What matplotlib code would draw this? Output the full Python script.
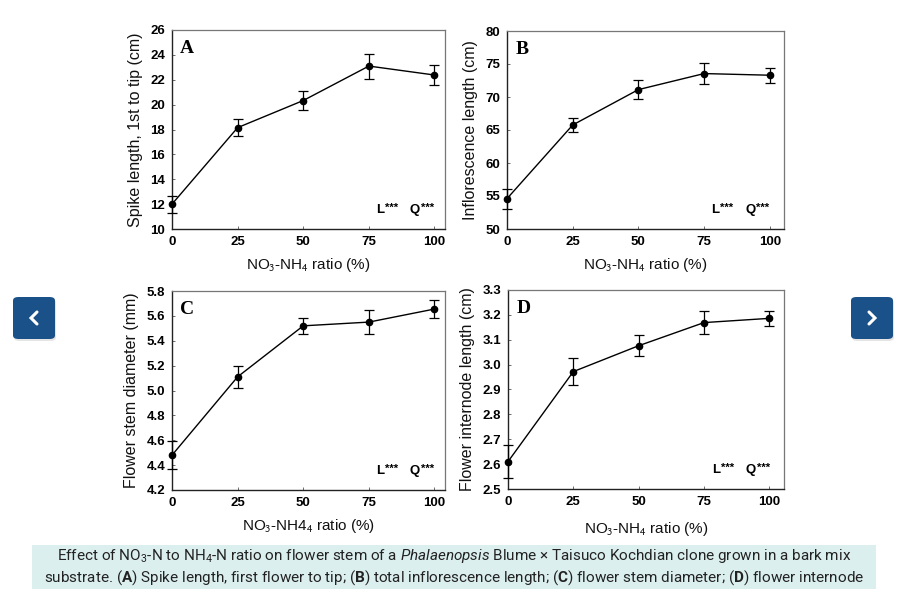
import matplotlib
matplotlib.use("Agg")
import matplotlib.pyplot as plt
from matplotlib.patches import FancyBboxPatch, Rectangle
from matplotlib.lines import Line2D
import matplotlib.transforms as mtrans

plt.rcParams['font.family'] = ['Liberation Sans', 'DejaVu Sans']
plt.rcParams['mathtext.fontset'] = 'custom'
plt.rcParams['mathtext.rm'] = 'Roboto'
plt.rcParams['mathtext.it'] = 'Roboto:italic'
plt.rcParams['mathtext.bf'] = 'Roboto:bold'

# ---- data ----
ratio = [0, 25, 50, 75, 100]
xticks = [0, 25, 50, 75, 100]

spike = [12.0, 18.15, 20.33, 23.1, 22.38]
spike_err = [0.68, 0.67, 0.78, 1.0, 0.77]

infl = [54.6, 65.76, 71.12, 73.55, 73.3]
infl_err = [1.5, 1.1, 1.43, 1.6, 1.13]

diam = [4.48, 5.11, 5.52, 5.55, 5.655]
diam_err = [0.11, 0.09, 0.065, 0.095, 0.072]

intern = [2.61, 2.972, 3.076, 3.169, 3.186]
intern_err = [0.067, 0.055, 0.042, 0.047, 0.03]

panels = [
    dict(letter='A', y=spike, e=spike_err, ylim=(10, 26), yticks=list(range(10, 27, 2)),
         fmt='{:.0f}', ylabel='Spike length, 1st to tip (cm)',
         xlabel='NO$_3$-NH$_4$ ratio (%)', xmax=104,
         pos=[172/898, 1-229/595, 273/898, 199/595]),
    dict(letter='B', y=infl, e=infl_err, ylim=(50, 80), yticks=list(range(50, 81, 5)),
         fmt='{:.0f}', ylabel='Inflorescence length (cm)',
         xlabel='NO$_3$-NH$_4$ ratio (%)', xmax=105.4,
         pos=[507/898, 1-229/595, 277/898, 198/595]),
    dict(letter='C', y=diam, e=diam_err, ylim=(4.2, 5.8),
         yticks=[4.2, 4.4, 4.6, 4.8, 5.0, 5.2, 5.4, 5.6, 5.8],
         fmt='{:.1f}', ylabel='Flower stem diameter (mm)',
         xlabel='NO$_3$-NH4$_4$ ratio (%)', xmax=104,
         pos=[172/898, 1-490/595, 273/898, 199/595]),
    dict(letter='D', y=intern, e=intern_err, ylim=(2.5, 3.3),
         yticks=[2.5, 2.6, 2.7, 2.8, 2.9, 3.0, 3.1, 3.2, 3.3],
         fmt='{:.1f}', ylabel='Flower internode length (cm)',
         xlabel='NO$_3$-NH$_4$ ratio (%)', xmax=105.6,
         pos=[508/898, 1-489/595, 276/898, 199/595]),
]

fig = plt.figure(figsize=(8.98, 5.95), dpi=100)
fig.patch.set_facecolor('white')

for i, p in enumerate(panels):
    ax = fig.add_axes(p['pos'])
    ax.errorbar(ratio, p['y'], yerr=p['e'], color='black', lw=1.0, marker='o',
                ms=4.5, capsize=3.5, elinewidth=0.9, capthick=0.9, clip_on=False,
                zorder=3)
    ax.set_xlim(0, p['xmax'])
    ax.set_ylim(*p['ylim'])
    ax.set_xticks(xticks)
    ax.set_xticklabels([str(t) for t in xticks], fontweight='bold', fontsize=9.5)
    ax.set_yticks(p['yticks'])
    ax.set_yticklabels([p['fmt'].format(t) for t in p['yticks']], fontweight='bold',
                       fontsize=9.5)
    ax.tick_params(direction='in', length=2.5, width=0.6, color='#555555', pad=5)
    for s in ['left', 'bottom']:
        ax.spines[s].set_color('#222222')
        ax.spines[s].set_linewidth(1.0)
    for s in ['top', 'right']:
        ax.spines[s].set_color('#777777')
        ax.spines[s].set_linewidth(0.9)
    ax.set_ylabel(p['ylabel'], fontsize=11.5, labelpad=5, color='#111111')
    ax.set_xlabel(p['xlabel'], fontsize=11, labelpad=6 if i != 3 else 9,
                  color='#111111', math_fontfamily='stixsans')
    ax.text(0.03, 0.95, p['letter'], transform=ax.transAxes, ha='left', va='top',
            fontsize=14, fontweight='bold', family='Liberation Serif')
    w_ax = p['pos'][2] * 898
    for lab, xpx, dx in [('L', 204, 6.2), ('Q', 238, 7.8)]:
        xf = xpx / w_ax
        ax.text(xf, 0.065, lab, transform=ax.transAxes, ha='left', va='bottom',
                fontsize=9.5, fontweight='bold')
        off = mtrans.offset_copy(ax.transAxes, fig=fig, x=dx, y=2.6, units='points')
        ax.text(xf, 0.065, '***', transform=off, ha='left', va='bottom',
                fontsize=8, fontweight='bold')

# navigation buttons
btn_col = '#1b5189'
for (x0, sign) in [(13, -1), (851, 1)]:
    w, h = 42, 42
    y0 = 297
    shadow = FancyBboxPatch(((x0 + 1) / 898, 1 - (y0 + h + 2) / 595), w / 898, h / 595,
                            boxstyle='round,pad=0,rounding_size=0.006',
                            transform=fig.transFigure, fc='#cccccc', ec='none',
                            alpha=0.5, zorder=1)
    fig.patches.append(shadow)
    b = FancyBboxPatch((x0 / 898, 1 - (y0 + h) / 595), w / 898, h / 595,
                       boxstyle='round,pad=0,rounding_size=0.006',
                       transform=fig.transFigure, fc=btn_col, ec='none', zorder=2)
    fig.patches.append(b)
    cx, cy = x0 + w / 2, y0 + h / 2
    xs = [cx - 3 * sign, cx + 3 * sign, cx - 3 * sign]
    ys = [cy - 6, cy, cy + 6]
    fig.lines.append(Line2D([v / 898 for v in xs], [1 - v / 595 for v in ys],
                            transform=fig.transFigure, color='white', lw=2.2,
                            solid_capstyle='round', solid_joinstyle='miter', zorder=3))

# caption box
cap = Rectangle((32 / 898, 1 - 589 / 595), (876 - 32) / 898, (589 - 545) / 595,
                transform=fig.transFigure, fc='#dcefef', ec='none', zorder=1)
fig.patches.append(cap)
line1 = ('Effect of NO$_3$-N to NH$_4$-N ratio on flower stem of a $\\it{Phalaenopsis}$'
         ' Blume × Taisuco Kochdian clone grown in a bark mix')
line2 = ('substrate. ($\\bf{A}$) Spike length, first flower to tip; ($\\bf{B}$) total '
         'inflorescence length; ($\\bf{C}$) flower stem diameter; ($\\bf{D}$) flower internode')
fig.text(454 / 898, 1 - 556 / 595, line1, ha='center', va='center', fontsize=11,
         family='Roboto', color='#222222', zorder=3)
fig.text(454 / 898, 1 - 578 / 595, line2, ha='center', va='center', fontsize=11,
         family='Roboto', color='#222222', zorder=3)

fig.savefig('out.png', dpi=100, facecolor='white')
